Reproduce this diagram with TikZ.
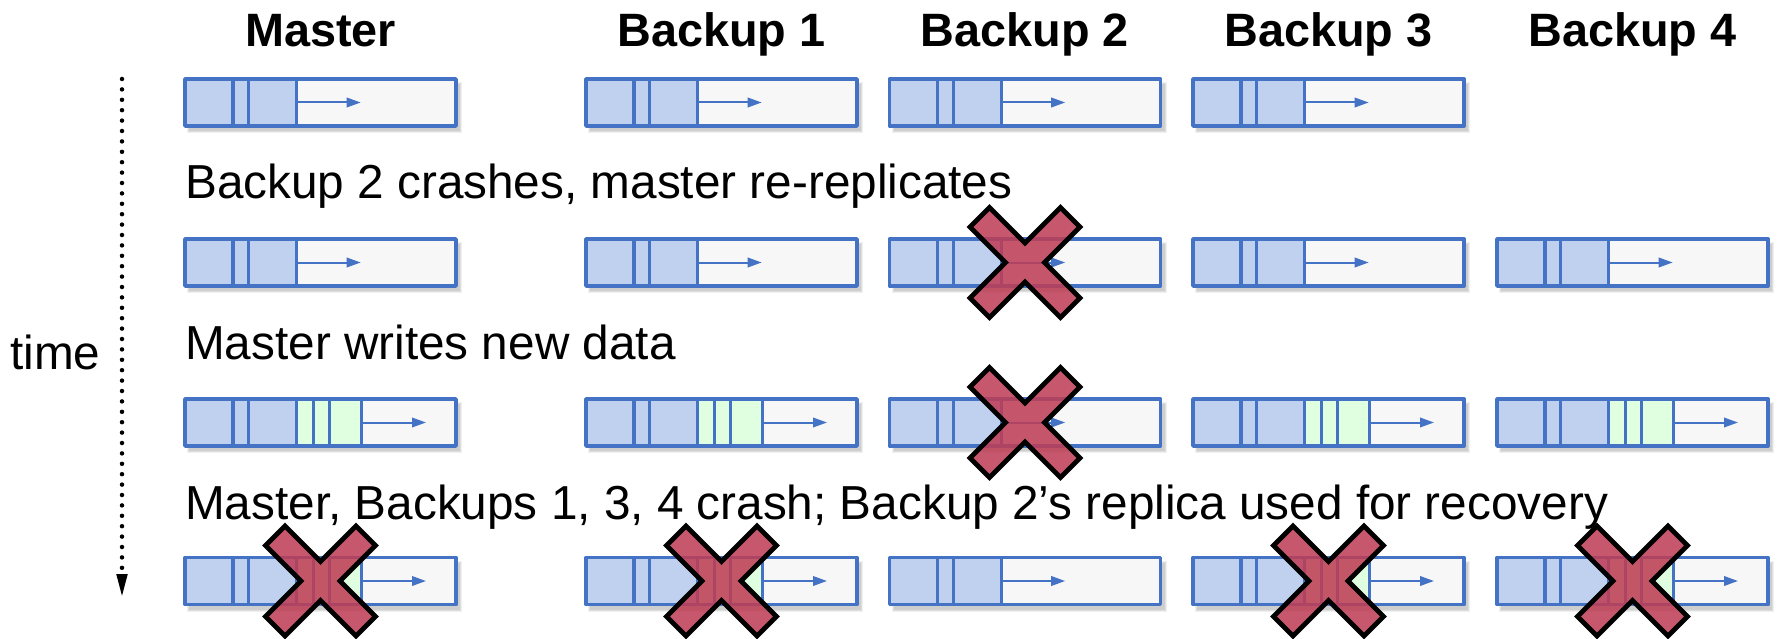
\documentclass[tikz,border=0pt]{standalone}
\usepackage{fontspec}
\setmainfont{Liberation Sans}
\usetikzlibrary{arrows.meta}
\definecolor{bxblue}{HTML}{4472C4}
\definecolor{bxfill}{RGB}{192,209,240}
\definecolor{bxgray}{HTML}{F7F7F7}
\definecolor{bxgreen}{RGB}{224,255,224}
\definecolor{xred}{RGB}{190,62,86}
\tikzset{
  bxborder/.style={draw=bxblue,line width=3.8pt,line join=round},
  bxdiv/.style={draw=bxblue,line width=3.3pt},
  bxarrow/.style={draw=bxblue,line width=2pt,-{Triangle[length=14pt,width=9.5pt]}},
  crossmark/.style={draw=black,line width=4.8pt,fill=xred,fill opacity=0.87,line join=miter},
  titletext/.style={font=\fontsize{46.8}{52}\selectfont\bfseries,anchor=base,inner sep=0pt},
  captext/.style={font=\fontsize{47.7}{54}\selectfont,anchor=base west,inner sep=0pt},
  timearrow/.style={line width=4.5pt,line cap=round,dash pattern=on 0pt off 10.4pt,-{Triangle[length=24pt,width=10pt]}}
}
% #1 x, #2 y (top left), #3 = 1 for green segment
\newcommand{\replbox}[3]{%
 \begin{scope}[shift={(#1,#2)}]
  \fill[black,opacity=.06] (2,3) rectangle (277,54);
  \fill[black,opacity=.07] (3,4) rectangle (276,53);
  \fill[black,opacity=.08] (4,5) rectangle (275,52);
  \fill[bxgray] (0,0) rectangle (271,47);
  \fill[bxfill] (0,0) rectangle (111.8,47);
  \ifnum#3=1
   \fill[bxgreen] (111.8,0) rectangle (176.7,47);
   \draw[bxdiv] (128.7,0)--(128.7,47) (144.7,0)--(144.7,47) (176.7,0)--(176.7,47);
   \draw[bxarrow] (176.7,23.5)--(241,23.5);
  \else
   \draw[bxarrow] (111.8,23.5)--(175.7,23.5);
  \fi
  \draw[bxdiv] (48,0)--(48,47) (63.8,0)--(63.8,47) (111.8,0)--(111.8,47);
  \draw[bxborder] (0,0) rectangle (271,47);
 \end{scope}}
% cross centred at #1,#2
\newcommand{\crossat}[2]{%
 \begin{scope}[shift={(#1,#2)}]
  \draw[crossmark] (0,19.5)--(35.5,55)--(55,35.5)--(19.5,0)--(55,-35.5)--(35.5,-55)
   --(0,-19.5)--(-35.5,-55)--(-55,-35.5)--(-19.5,0)--(-55,35.5)--(-35.5,55)--cycle;
 \end{scope}}
\begin{document}
\begin{tikzpicture}[x=1pt,y=-1pt]
\useasboundingbox (0,0) rectangle (1777,639);
% titles
\node[titletext] (tmaster) at (320.5,47) {Master};
\node[titletext] (tb1) at (721.5,47) {Backup 1};
\node[titletext] (tb2) at (1025,47) {Backup 2};
\node[titletext] (tb3) at (1328.5,47) {Backup 3};
\node[titletext] (tb4) at (1632.5,47) {Backup 4};
% row 1
\replbox{185}{79}{0}
\replbox{586}{79}{0}
\replbox{889.5}{79}{0}
\replbox{1193}{79}{0}
% caption 1
\node[captext] (cap1) at (185,199) {Backup 2 crashes, master re-replicates};
% row 2
\replbox{185}{239}{0}
\replbox{586}{239}{0}
\replbox{889.5}{239}{0}
\replbox{1193}{239}{0}
\replbox{1497}{239}{0}
\crossat{1025}{262.5}
% caption 2
\node[captext] (cap2) at (185,359) {Master writes new data};
% row 3
\replbox{185}{399}{1}
\replbox{586}{399}{1}
\replbox{889.5}{399}{0}
\replbox{1193}{399}{1}
\replbox{1497}{399}{1}
\crossat{1025}{422.5}
% caption 3
\node[captext] (cap3) at (185,519) {Master, Backups 1, 3, 4 crash; Backup 2’s replica used for recovery};
% row 4
\replbox{185}{557.5}{1}
\replbox{586}{557.5}{1}
\replbox{889.5}{557.5}{0}
\replbox{1193}{557.5}{1}
\replbox{1497}{557.5}{1}
\crossat{320.5}{581}
\crossat{721.5}{581}
\crossat{1328.5}{581}
\crossat{1632.5}{581}
% time axis
\node[captext] (timelbl) at (10,369) {time};
\coordinate (tstart) at (122,79);
\coordinate (tend) at (122,598);
\draw[timearrow] (tstart) -- (tend);
\end{tikzpicture}
\end{document}
